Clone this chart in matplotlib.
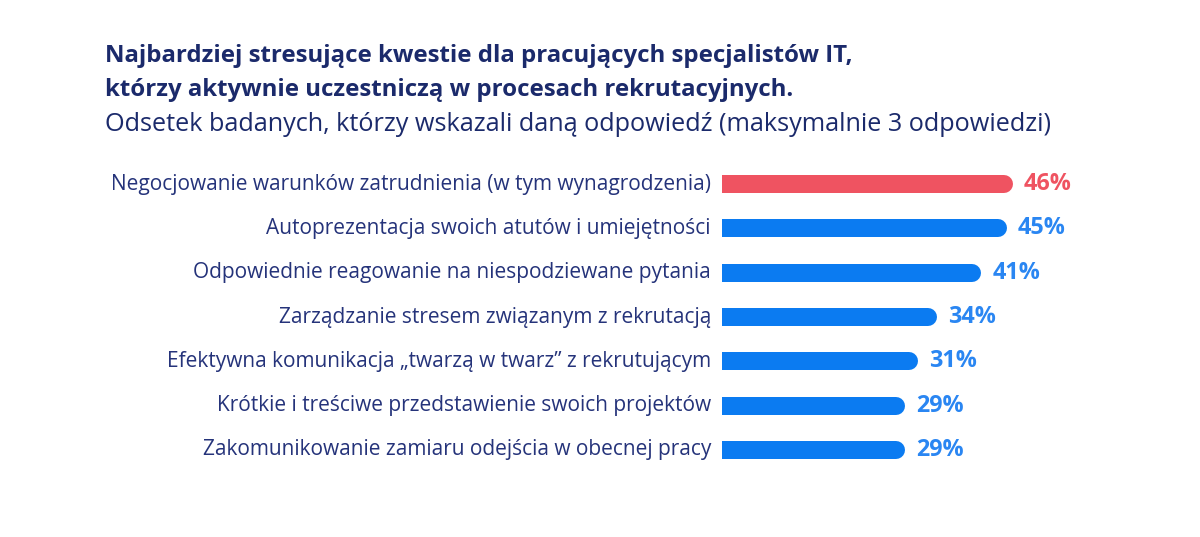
import matplotlib
matplotlib.use('Agg')
import matplotlib.pyplot as plt

plt.rcParams['font.family'] = ['Open Sans', 'DejaVu Sans']

title_lines = ['Najbardziej stresujące kwestie dla pracujących specjalistów IT,',
               'którzy aktywnie uczestniczą w procesach rekrutacyjnych.']
subtitle = 'Odsetek badanych, którzy wskazali daną odpowiedź (maksymalnie 3 odpowiedzi)'

categories = [
    'Negocjowanie warunków zatrudnienia (w tym wynagrodzenia)',
    'Autoprezentacja swoich atutów i umiejętności',
    'Odpowiednie reagowanie na niespodziewane pytania',
    'Zarządzanie stresem związanym z rekrutacją',
    'Efektywna komunikacja \u201etwarzą w twarz\u201d z rekrutującym',
    'Krótkie i treściwe przedstawienie swoich projektów',
    'Zakomunikowanie zamiaru odejścia w obecnej pracy',
]
values = [46, 45, 41, 34, 31, 29, 29]

navy = '#1b2a6b'
label_col = '#25337a'
red = '#ef5361'
blue = '#0b7bf1'
blue_txt = '#2a86f2'

W, H = 1200, 537
fig = plt.figure(figsize=(W / 100, H / 100), dpi=100)
fig.patch.set_facecolor('white')
renderer = fig.canvas.get_renderer()


def fit_size(text, target_px, weight='normal', base=14):
    # scale font size so the text spans target_px wide
    t = fig.text(0, 0, text, fontsize=base, fontweight=weight)
    w = t.get_window_extent(renderer).width
    t.remove()
    return base * target_px / w


title_fs = fit_size(title_lines[0], 750, 'bold')
sub_fs = fit_size(subtitle, 953)
cat_fs = fit_size(categories[0], 604)
val_fs = fit_size('46%', 48, 'bold')

# axes placed in pixel terms: bars start at x=722, row pitch ~44.4px
ax_left, ax_right = 722, 1120
ax_top, ax_bot = 162, 472
ax = fig.add_axes([ax_left / W, 1 - ax_bot / H, (ax_right - ax_left) / W, (ax_bot - ax_top) / H])
px_per_pct = (1013 - 722) / 46.0
ax.set_xlim(0, (ax_right - ax_left) / px_per_pct)
ax.set_ylim(len(categories) - 0.5, -0.5)
ax.axis('off')

bar_px = 18
r_data = (bar_px / 2) / px_per_pct
lw_pt = bar_px * 72 / 100

for i, (cat, v) in enumerate(zip(categories, values)):
    c = red if i == 0 else blue
    tc = red if i == 0 else blue_txt
    # round cap gives the rounded right end, left end clipped at the axes edge
    ax.plot([0, v - r_data], [i, i], color=c, lw=lw_pt, solid_capstyle='round')
    ax.annotate(f'{v}%', (v, i), xytext=(11 * 0.72, 0), textcoords='offset points',
                ha='left', va='center', fontsize=val_fs, fontweight='bold', color=tc)
    ax.annotate(cat, (0, i), xytext=(-11 * 0.72, 0), textcoords='offset points',
                ha='right', va='center', fontsize=cat_fs, color=label_col,
                annotation_clip=False)

fig.text(105 / W, 1 - 62 / H, title_lines[0], fontsize=title_fs, fontweight='bold',
         color=navy, va='baseline', ha='left')
fig.text(105 / W, 1 - 96 / H, title_lines[1], fontsize=title_fs, fontweight='bold',
         color=navy, va='baseline', ha='left')
fig.text(105 / W, 1 - 131 / H, subtitle, fontsize=sub_fs, color=navy, va='baseline', ha='left')

fig.savefig('out.png', dpi=100)
